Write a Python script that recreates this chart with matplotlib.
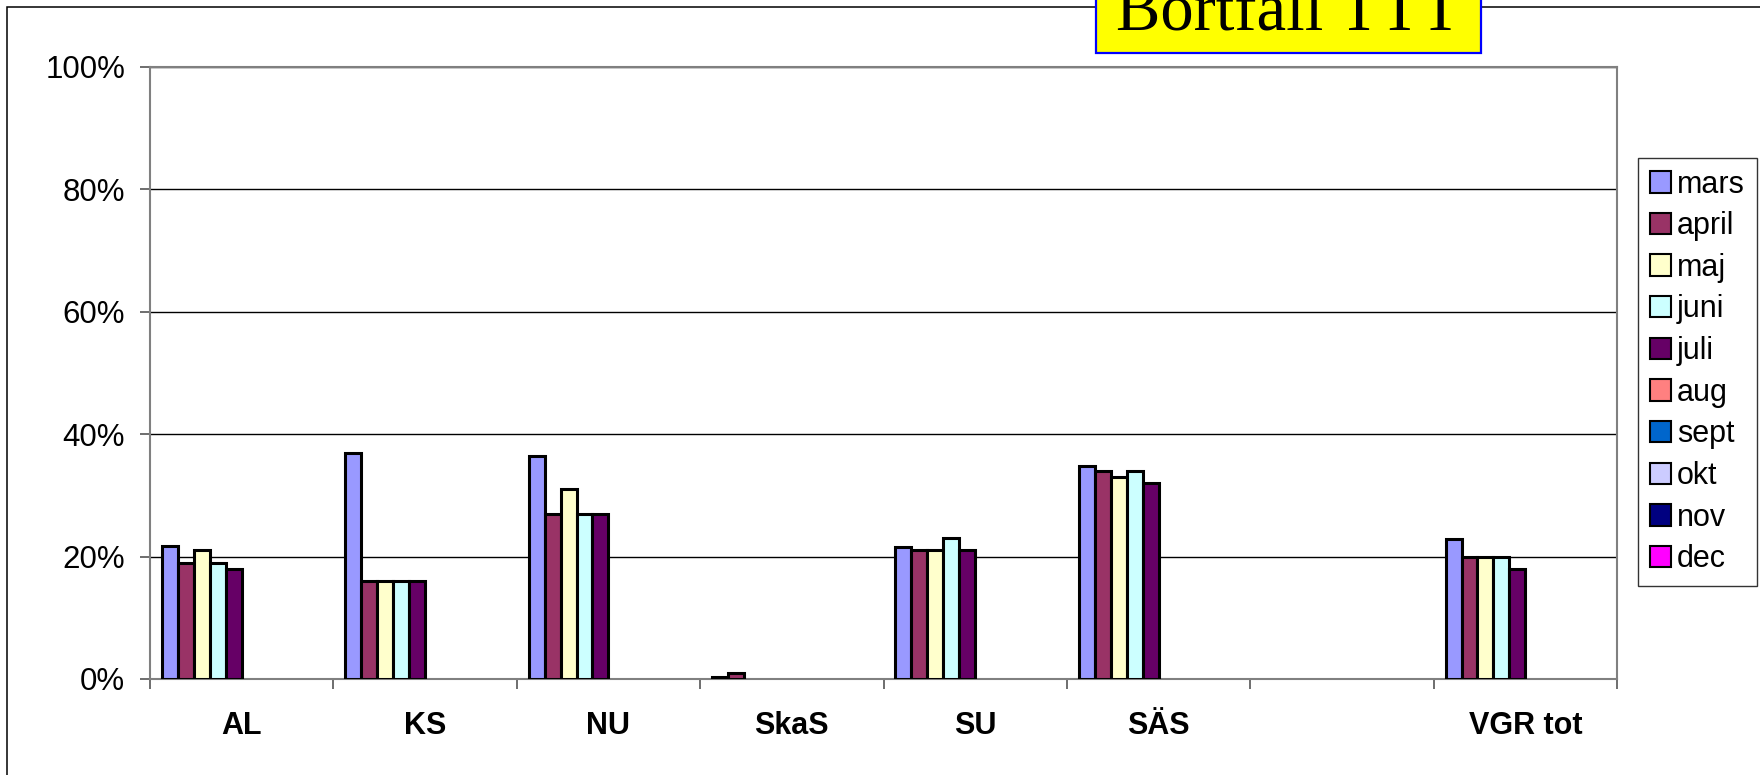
import numpy as np
import matplotlib
matplotlib.use("Agg")
import matplotlib.pyplot as plt
from matplotlib.patches import Patch, Rectangle
from matplotlib.ticker import PercentFormatter, FixedLocator

plt.rcParams['font.family'] = ['Liberation Sans', 'DejaVu Sans']

# ---- data ----
categories = ["AL", "KS", "NU", "SkaS", "SU", "SÄS", "", "VGR tot"]
months = ["mars", "april", "maj", "juni", "juli", "aug", "sept", "okt", "nov", "dec"]
nan = np.nan
mars  = [21.8, 36.9, 36.4, 0.4, 21.6, 34.8, nan, 22.9]
april = [19.0, 16.0, 27.0, 1.0, 21.0, 34.0, nan, 20.0]
maj   = [21.0, 16.0, 31.0, nan, 21.0, 33.0, nan, 20.0]
juni  = [19.0, 16.0, 27.0, nan, 23.0, 34.0, nan, 20.0]
juli  = [18.0, 16.0, 27.0, nan, 21.0, 32.0, nan, 18.0]
aug   = [nan] * 8
sept  = [nan] * 8
okt   = [nan] * 8
nov   = [nan] * 8
dec   = [nan] * 8
series = [mars, april, maj, juni, juli, aug, sept, okt, nov, dec]
colors = ["#9999FF", "#993366", "#FFFFCC", "#CCFFFF", "#660066",
          "#FF8080", "#0066CC", "#CCCCFF", "#000080", "#FF00FF"]
yticks = [0, 20, 40, 60, 80, 100]

W, H = 1760, 775
fig = plt.figure(figsize=(W / 100, H / 100), dpi=100)
fig.patch.set_facecolor("white")

# outer frame
fig.patches.append(Rectangle((7 / W, -0.2), 1.5, 1 - 7 / H + 0.2, transform=fig.transFigure,
                             facecolor="none", edgecolor="black", linewidth=1.1, zorder=0))

ax = fig.add_axes([150 / W, 1 - 679 / H, (1617 - 150) / W, (679 - 67) / H])

n = len(series)
bw = 1.0 / (n + 1.5)
x = np.arange(len(categories))
for j, (vals, c, m) in enumerate(zip(series, colors, months)):
    pos = x + 0.75 * bw + (j + 0.5) * bw
    ax.bar(pos, vals, width=bw, color=c, edgecolor="black", linewidth=2.2, label=m, zorder=3)

ax.set_xlim(0, len(categories))
ax.set_ylim(0, 100)
ax.set_yticks(yticks)
ax.yaxis.set_major_formatter(PercentFormatter(decimals=0))
ax.yaxis.grid(True, color="black", linewidth=1.0, zorder=1)
ax.set_axisbelow(True)

ax.xaxis.set_major_locator(FixedLocator(np.arange(len(categories) + 1)))
ax.xaxis.set_minor_locator(FixedLocator(x + 0.5))
ax.set_xticklabels([], minor=False)
ax.set_xticklabels(categories, minor=True, fontweight="bold", fontsize=22)
ax.tick_params(axis="x", which="major", length=7, width=1.2, color="#555555", direction="out")
ax.tick_params(axis="x", which="minor", length=0, pad=23)
ax.tick_params(axis="y", length=7, width=1.2, color="#555555", labelsize=22.5, pad=11)

for s in ax.spines.values():
    s.set_color("#808080")
    s.set_linewidth(1.5)

handles = [Patch(facecolor=c, edgecolor="black", linewidth=1.5) for c in colors]
leg = fig.legend(handles, months, loc="upper left", bbox_to_anchor=(1638 / W, 1 - 158 / H),
                 fontsize=22, frameon=True, fancybox=False, edgecolor="black",
                 handlelength=0.7, handleheight=0.7, handletextpad=0.2,
                 labelspacing=0.38, borderpad=0.38, borderaxespad=0)
leg.get_frame().set_linewidth(1.0)

# title box
fig.patches.append(Rectangle((1096 / W, 1 - 53 / H), (1481 - 1096) / W, 0.2, transform=fig.transFigure,
                             facecolor="yellow", edgecolor="blue", linewidth=1.6, zorder=5))
fig.text((1096 + 1481) / 2 / W, 1 - 29 / H, "Bortfall TTT", ha="center", va="baseline",
         fontsize=48, family=["Liberation Serif", "DejaVu Serif"], zorder=6)

fig.savefig("out.png", dpi=100)
